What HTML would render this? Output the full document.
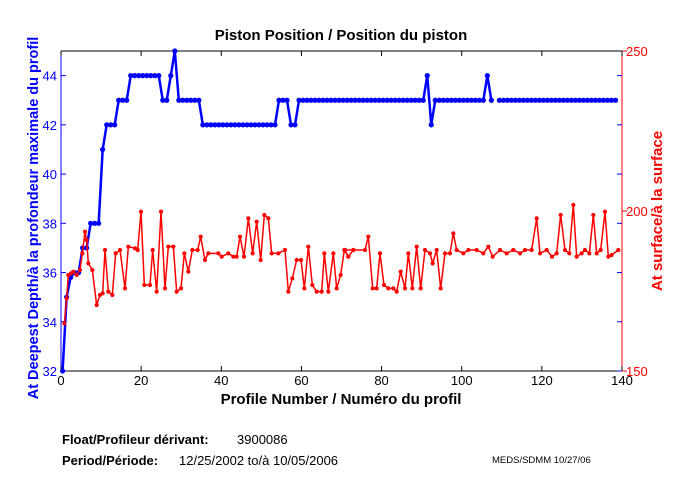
<!DOCTYPE html>
<html><head><meta charset="utf-8"><style>
body{margin:0;background:#fff;}
svg{display:block;font-family:"Liberation Sans","DejaVu Sans",sans-serif;}
</style></head><body>
<svg id="s" width="680" height="500" xmlns="http://www.w3.org/2000/svg">
<rect width="680" height="500" fill="#fff"/>
<text x="341" y="40" font-size="15" font-weight="bold" text-anchor="middle">Piston Position / Position du piston</text>
<g id="ax"></g>
<text x="341" y="404" font-size="15" font-weight="bold" text-anchor="middle">Profile Number / Numéro du profil</text>
<text transform="translate(38,218) rotate(-90)" font-size="14.5" font-weight="bold" fill="#0000ff" text-anchor="middle">At Deepest Depth/à la profondeur maximale du profil</text>
<text transform="translate(662,211) rotate(-90)" font-size="15" font-weight="bold" fill="#ff0000" text-anchor="middle">At surface/à la surface</text>
<text x="62" y="444" font-size="13" font-weight="bold">Float/Profileur dérivant:</text>
<text x="237" y="444" font-size="13">3900086</text>
<text x="62" y="465" font-size="13" font-weight="bold">Period/Période:</text>
<text x="179" y="465" font-size="13">12/25/2002  to/à  10/05/2006</text>
<text x="492" y="463" font-size="9.5">MEDS/SDMM  10/27/06</text>
</svg>
<script>
var NS="http://www.w3.org/2000/svg",g=document.getElementById("ax");
function el(t,a,txt){var e=document.createElementNS(NS,t);for(var k in a)e.setAttribute(k,a[k]);if(txt!=null)e.textContent=txt;g.appendChild(e);return e;}
var L=61,R=622,T=51,B=371;
function X(i){return L+i*(R-L)/140;}
function YL(v){return B-(v-32)*(B-T)/13;}
function YR(v){return B-(v-150)*(B-T)/100;}
el("line",{x1:L,y1:T,x2:R,y2:T,stroke:"#000"});
el("line",{x1:L,y1:B,x2:R,y2:B,stroke:"#000"});
el("line",{x1:L,y1:T,x2:L,y2:B,stroke:"#0000ff"});
el("line",{x1:R,y1:T,x2:R,y2:B,stroke:"#ff0000"});
for(var i=0;i<=140;i+=20){var x=X(i);
 el("line",{x1:x,y1:B,x2:x,y2:B-5,stroke:"#000"});el("line",{x1:x,y1:T,x2:x,y2:T+5,stroke:"#000"});
 el("text",{x:x,y:B+14,"font-size":13,"text-anchor":"middle"},i);}
for(var v=32;v<=44;v+=2){var y=YL(v);
 el("line",{x1:L,y1:y,x2:L+5,y2:y,stroke:"#0000ff"});el("line",{x1:R,y1:y,x2:R-5,y2:y,stroke:"#0000ff"});
 el("text",{x:L-4,y:y+5,"font-size":13,"text-anchor":"end",fill:"#0000ff"},v);}
[150,200,250].forEach(function(v){var y=YR(v);
 el("line",{x1:R,y1:y,x2:R+5,y2:y,stroke:"#ff0000"});
 el("text",{x:R+4,y:y+5,"font-size":13,fill:"#ff0000"},v);});
var b={1:32,2:35,3:35.8,4:36,5:36,6:37,7:37,8:38,9:38,10:38,11:41};
for(i=12;i<=14;i++)b[i]=42;for(i=15;i<=17;i++)b[i]=43;for(i=18;i<=25;i++)b[i]=44;
b[26]=43;b[27]=43;b[28]=44;b[29]=45;for(i=30;i<=35;i++)b[i]=43;for(i=36;i<=54;i++)b[i]=42;
for(i=55;i<=57;i++)b[i]=43;b[58]=42;b[59]=42;for(i=60;i<=91;i++)b[i]=43;b[92]=44;b[93]=42;
for(i=94;i<=106;i++)b[i]=43;b[107]=44;b[108]=43;for(i=110;i<=139;i++)b[i]=43;
var seg=[],segs=[];
for(i=1;i<=139;i++){if(b[i]==null){segs.push(seg);seg=[];continue;}seg.push([X(i-0.6),YL(b[i])]);}
segs.push(seg);
segs.forEach(function(s){el("polyline",{points:s.map(function(p){return p.join(",")}).join(" "),fill:"none",stroke:"#0000ff","stroke-width":2.5});
 s.forEach(function(p){el("circle",{cx:p[0],cy:p[1],r:2.6,fill:"#0000ff"});});});
var r1=[[28,850],[35,775],[40,705],[48,700],[55,695],[65,705],[75,690],[82,640],[90,575],[95,600],[100,670],[112,690],[125,795],[135,765],[143,760],[150,630],[160,755],[172,765],[182,640],[195,630],[210,745],[220,620],[240,625],[248,630],[258,515],[268,735],[285,735],[293,630],[305,755],[318,515],[330,745],[340,620],[355,620],[365,755],[378,745],[388,640],[400,695],[412,630],[428,630],[437,590],[450,660],[460,640],[490,640],[500,650],[520,640],[535,650],[545,650],[555,590],[567,650],[580,535],[593,640],[605,545],[617,660],[628,525],[640,535],[650,640],[670,640],[690,630],[700,755],[712,715],[725,660],[738,660],[748,745],[760,620],[772,735],[785,755],[800,755],[808,640],[820,755],[835,640],[845,745],[857,705],[868,630],[880,650],[895,630]];
var r2=[[15,630],[25,650],[40,630],[75,630],[85,590],[98,745],[110,745],[120,640],[132,735],[145,745],[160,745],[170,755],[182,695],[195,745],[205,640],[217,745],[230,620],[242,745],[255,630],[270,640],[278,670],[290,630],[302,745],[315,640],[330,640],[340,580],[350,630],[370,640],[385,630],[410,630],[430,640],[445,620],[458,650],[480,630],[500,640],[520,630],[540,640],[555,630],[575,630],[590,535],[600,640],[620,630],[636,650],[650,640],[662,525],[675,630],[688,640],[700,495],[710,650],[725,640],[735,630],[748,640],[760,525],[770,640],[782,630],[795,515],[805,650],[815,645],[835,630]];
var rp=r1.map(function(p){return [p[0]/3+55,p[1]/3+40]}).concat(r2.map(function(p){return [p[0]/3+340,p[1]/3+40]}));
el("polyline",{points:rp.map(function(p){return p.join(",")}).join(" "),fill:"none",stroke:"#ff0000","stroke-width":1.5});
rp.forEach(function(p){el("circle",{cx:p[0],cy:p[1],r:2.1,fill:"#ff0000"});});
</script>
</body></html>
